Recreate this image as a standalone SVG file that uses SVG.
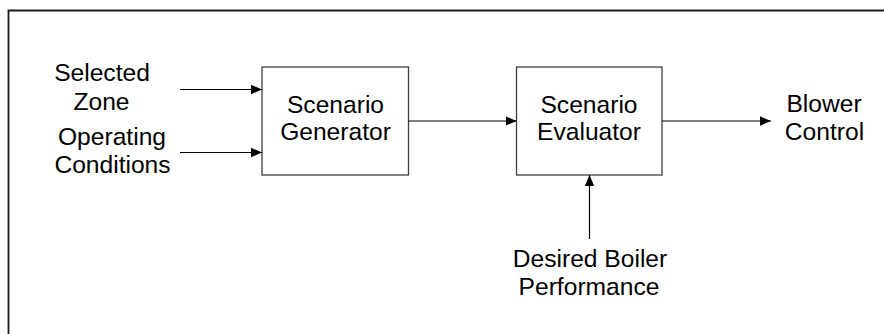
<svg xmlns="http://www.w3.org/2000/svg" width="884" height="334" viewBox="0 0 884 334">
<style>
  .box { fill: #ffffff; stroke: #404040; stroke-width: 1.3; }
  .lbl { font-family: "Liberation Sans", Arial, sans-serif; font-size: 24.6px; fill: #000; text-anchor: middle; }
  .conn { stroke: #000; stroke-width: 1.2; fill: none; marker-end: url(#arrow); }
</style>
<defs>
  <marker id="arrow" markerUnits="userSpaceOnUse" markerWidth="11" markerHeight="10" viewBox="0 0 11 10" refX="11" refY="5" orient="auto">
    <path d="M0,0.3 L11,5 L0,9.7 Z" fill="#000"/>
  </marker>
</defs>
<rect width="884" height="334" fill="#ffffff"/>
<path d="M8.5,334 V10.5 H884" fill="none" stroke="#1a1a1a" stroke-width="1.8"/>

<g id="selected-zone">
  <text class="lbl" x="102" y="81">Selected</text>
  <text class="lbl" x="101.5" y="109.5">Zone</text>
</g>
<g id="operating-conditions">
  <text class="lbl" x="112" y="145">Operating</text>
  <text class="lbl" x="112.5" y="173">Conditions</text>
</g>
<g id="scenario-generator">
  <rect class="box" x="262" y="67" width="146.5" height="108"/>
  <text class="lbl" x="335.5" y="112.5">Scenario</text>
  <text class="lbl" x="335.5" y="140">Generator</text>
</g>
<g id="scenario-evaluator">
  <rect class="box" x="516.5" y="67" width="145.5" height="108"/>
  <text class="lbl" x="589" y="112.5">Scenario</text>
  <text class="lbl" x="589" y="140">Evaluator</text>
</g>
<g id="blower-control">
  <text class="lbl" x="824" y="112.3">Blower</text>
  <text class="lbl" x="824.5" y="139.5">Control</text>
</g>
<g id="desired-boiler-performance">
  <text class="lbl" x="590" y="266.5">Desired Boiler</text>
  <text class="lbl" x="589" y="294.5">Performance</text>
</g>

<g id="connectors">
  <line class="conn" x1="180" y1="89.5" x2="262" y2="89.5"/>
  <line class="conn" x1="180" y1="152.5" x2="262" y2="152.5"/>
  <line class="conn" x1="408.5" y1="121" x2="516.5" y2="121"/>
  <line class="conn" x1="662" y1="121" x2="771" y2="121"/>
  <line class="conn" x1="589.5" y1="239" x2="589.5" y2="175"/>
</g>
</svg>
